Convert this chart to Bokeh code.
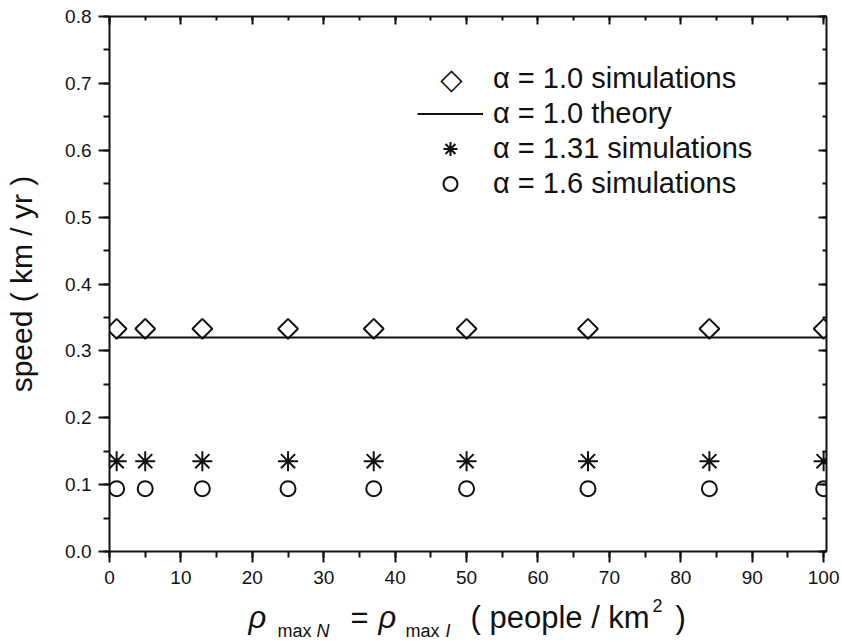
import numpy as np
from bokeh.plotting import figure
from bokeh.layouts import column
from bokeh.models import (LinearAxis, Range1d, SingleIntervalTicker, Legend, LegendItem,
                          Label, CustomJSTickFormatter, NumeralTickFormatter)
from bokeh.embed import file_html
from bokeh.resources import INLINE

# ---- data ----
density = [1, 5, 13, 25, 37, 50, 67, 84, 100]
speed_alpha10_sim = [0.333, 0.333, 0.333, 0.333, 0.333, 0.333, 0.333, 0.333, 0.333]
theory_density = [1, 100]
speed_alpha10_theory = [0.320, 0.320]
speed_alpha131_sim = [0.135, 0.135, 0.135, 0.135, 0.135, 0.135, 0.135, 0.135, 0.135]
speed_alpha16_sim = [0.094, 0.094, 0.094, 0.094, 0.094, 0.094, 0.094, 0.094, 0.094]
legend_labels = ["α = 1.0 simulations", "α = 1.0 theory", "α = 1.31 simulations", "α = 1.6 simulations"]
y_label = "speed ( km / yr )"

FONT = "Liberation Sans"
BLACK = "#111111"

p = figure(width=842, height=597, output_backend="svg", toolbar_location=None,
           x_range=Range1d(0, 100.4), y_range=Range1d(0, 0.8),
           min_border_left=109, min_border_right=16, min_border_top=16, min_border_bottom=46,
           x_axis_location=None, y_axis_location=None)
p.grid.visible = False
p.outline_line_color = None
p.background_fill_color = "white"
p.border_fill_color = "white"

def style_axis(ax, outward=True):
    ax.axis_line_width = 2
    ax.axis_line_color = BLACK
    ax.major_tick_line_width = 2
    ax.minor_tick_line_width = 2
    ax.major_tick_line_color = BLACK
    ax.minor_tick_line_color = BLACK
    if outward:
        ax.major_tick_out = 11
        ax.major_tick_in = 0
        ax.minor_tick_out = 6
        ax.minor_tick_in = 0
    else:
        ax.major_tick_out = 0
        ax.major_tick_in = 8
        ax.minor_tick_out = 0
        ax.minor_tick_in = 4
    ax.major_label_text_font = FONT
    ax.major_label_text_font_size = "19px"
    ax.major_label_text_color = BLACK

xb = LinearAxis(ticker=SingleIntervalTicker(interval=10, num_minor_ticks=2))
style_axis(xb)
xb.major_label_standoff = 8
p.add_layout(xb, "below")

yl = LinearAxis(ticker=SingleIntervalTicker(interval=0.1, num_minor_ticks=2),
                formatter=NumeralTickFormatter(format="0.0"))
style_axis(yl)
yl.major_label_standoff = 7
yl.axis_label = y_label
yl.axis_label_text_font = FONT
yl.axis_label_text_font_size = "30px"
yl.axis_label_text_font_style = "normal"
yl.axis_label_text_color = BLACK
yl.axis_label_standoff = 24
p.add_layout(yl, "left")

xt = LinearAxis(ticker=SingleIntervalTicker(interval=10, num_minor_ticks=2),
                formatter=CustomJSTickFormatter(code="return ''"))
style_axis(xt, outward=False)
xt.major_label_standoff = 0
p.add_layout(xt, "above")

yr = LinearAxis(ticker=SingleIntervalTicker(interval=0.1, num_minor_ticks=2),
                formatter=CustomJSTickFormatter(code="return ''"))
style_axis(yr, outward=False)
yr.major_label_standoff = 0
p.add_layout(yr, "right")

# ---- glyphs ----
r_d = p.scatter(density, speed_alpha10_sim, marker="square", angle=np.pi / 4, size=14,
                fill_color=None, line_color=BLACK, line_width=2)
r_l = p.line(theory_density, speed_alpha10_theory, line_color=BLACK, line_width=2)
r_s = p.scatter(density, speed_alpha131_sim, marker="asterisk", size=20,
                line_color=BLACK, line_width=2)
r_c = p.scatter(density, speed_alpha16_sim, marker="circle", size=15,
                fill_color=None, line_color=BLACK, line_width=2)
# legend placeholder for the diamond entry (its symbol is drawn as a text glyph below)
r_blank = p.scatter([], [], marker="circle", fill_alpha=0, line_alpha=0)

legend = Legend(items=[LegendItem(label=legend_labels[0], renderers=[r_blank]),
                       LegendItem(label=legend_labels[1], renderers=[r_l]),
                       LegendItem(label=legend_labels[2], renderers=[r_s]),
                       LegendItem(label=legend_labels[3], renderers=[r_c])],
                location=(308, 350), border_line_color=None, background_fill_alpha=0,
                padding=0, margin=0, spacing=0, glyph_width=66, glyph_height=35,
                label_height=26, label_standoff=10, label_text_font=FONT,
                label_text_font_size="29px", label_text_color=BLACK)
p.add_layout(legend)
p.add_layout(Label(x=342, y=473, x_units="screen", y_units="screen", text="◇",
                   text_font="DejaVu Sans", text_font_size="29px", text_color=BLACK,
                   text_align="center", text_baseline="middle"))

# ---- composite x-axis title (separate strip under the plot) ----
t = figure(width=842, height=45, output_backend="svg", toolbar_location=None,
           x_range=Range1d(0, 1), y_range=Range1d(0, 1),
           min_border_left=109, min_border_right=16, min_border_top=0, min_border_bottom=0,
           x_axis_location=None, y_axis_location=None)
t.grid.visible = False
t.outline_line_color = None
t.background_fill_color = "white"
t.border_fill_color = "white"

def add_label(text, x, y, size, style="normal"):
    t.add_layout(Label(x=x, y=y, x_units="screen", y_units="screen", text=text,
                       text_font=FONT, text_font_size=size, text_font_style=style,
                       text_color=BLACK, text_baseline="alphabetic", text_align="left"))

add_label("ρ", 139, 25, "31px", "italic")
add_label("max", 168, 12, "18px")
add_label("N", 207, 12, "18px", "italic")
add_label("=", 241, 25, "31px")
add_label("ρ", 269, 25, "31px", "italic")
add_label("max", 296, 12, "18px")
add_label("I", 336, 12, "18px", "italic")
add_label("( people / km", 361, 25, "31px")
add_label("2", 543, 37, "18px")
add_label(")", 566, 25, "31px")

layout = column(p, t, spacing=0)
open("out.html", "w").write(file_html(layout, INLINE))
